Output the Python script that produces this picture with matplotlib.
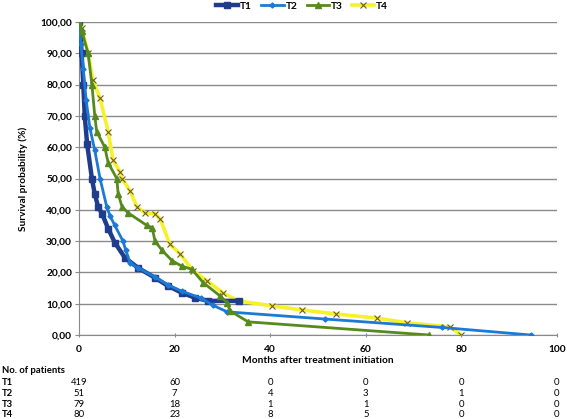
import matplotlib
matplotlib.use('Agg')
import matplotlib.pyplot as plt
import matplotlib.transforms as mtransforms
from matplotlib.ticker import FuncFormatter

plt.rcParams['font.family'] = ['Lato', 'DejaVu Sans']
plt.rcParams['font.size'] = 7.3
plt.rcParams['font.weight'] = 'bold'

# survival curves (months, %)
t1_months = [0, 0.3, 0.55, 0.9, 1.2, 1.7, 2.7, 3.3, 4.0, 4.8, 6.1, 7.5, 9.6, 12.3, 15.9,
             18.6, 21.5, 24.3, 27, 33.5]
t1_surv = [100, 96, 90, 80, 70, 61, 50, 45, 41, 38.8, 34, 29.5, 24.7, 21.5, 18.3,
           15.7, 13.5, 11.9, 10.9, 10.9]

t2_months = [0, 0.4, 0.9, 1.5, 2.3, 3.3, 4.4, 5.8, 6.5, 7.5, 9.2, 9.8, 10.7, 12.3, 15.9,
             18.6, 21.5, 25.5, 28, 31, 51.5, 76, 94.5]
t2_surv = [100, 93, 85, 75, 66, 59, 50, 41, 38, 35, 30, 27, 23, 21.5, 18.5,
           16, 14, 11.8, 9.5, 7.4, 5.1, 2.4, 0]

t3_months = [0, 0.6, 1.9, 2.7, 3.3, 3.7, 5.4, 6.1, 7.9, 8.2, 9, 10.3, 14.2, 15.3, 15.9,
             17.4, 19.5, 21.5, 23.6, 26, 29.5, 31, 31.6, 35.4, 73.2]
t3_surv = [100, 97, 90, 80, 70, 65, 60, 55, 50, 45, 41, 39, 35, 34.3, 30,
           27, 23.7, 22, 21, 16.7, 12.5, 10.3, 7.7, 4.2, 0]

t4_months = [0, 0.6, 1.9, 2.9, 4.4, 6.1, 7.1, 8.6, 9.0, 10.7, 12.1, 13.8, 15.9, 17.0, 19.0,
             21.1, 23.9, 26.8, 30.1, 33.3, 40.4, 46.7, 53.8, 62.3, 68.6, 77.6, 80.0]
t4_surv = [100, 98, 90, 81.5, 75.6, 65, 56, 52, 50, 46, 41, 39, 38.8, 37, 29,
           26, 20.5, 17.3, 13.5, 10.9, 9.3, 8, 6.7, 5.4, 3.9, 2.6, 0]

# number at risk table
risk_times = [0, 20, 40, 60, 80, 100]
risk_rows = ['T1', 'T2', 'T3', 'T4']
risk_t1 = [419, 60, 0, 0, 0, 0]
risk_t2 = [51, 7, 4, 3, 1, 0]
risk_t3 = [79, 18, 1, 1, 0, 0]
risk_t4 = [80, 23, 8, 5, 0, 0]

W, H = 567, 419
fig = plt.figure(figsize=(W / 100, H / 100), dpi=100)
ax = fig.add_axes([79 / W, 1 - 335 / H, (557 - 79) / W, (335 - 22) / H])

ax.plot(t1_months, t1_surv, color='#1f3d8c', lw=3.2, marker='s', ms=4, label='T1', zorder=3)
ax.plot(t2_months, t2_surv, color='#1c7ad4', lw=2, marker='D', ms=2.6, label='T2', zorder=4)
ax.plot(t3_months, t3_surv, color='#568a1c', lw=2, marker='^', ms=5, label='T3', zorder=5)
ax.plot(t4_months, t4_surv, color='#f5f22a', lw=2.6, marker='x', ms=4, mew=0.8,
        mec='#6e5a22', label='T4', zorder=2)

ax.set_xlim(0, 100)
ax.set_ylim(0, 100)
ax.set_yticks(range(0, 101, 10))
ax.set_xticks(risk_times)
ax.yaxis.set_major_formatter(FuncFormatter(lambda v, p: ('%.2f' % v).replace('.', ',')))
ax.grid(axis='y', color='#8a8a8a', lw=1)
ax.set_axisbelow(True)
for s in ['top', 'right']:
    ax.spines[s].set_visible(False)
for s in ['left', 'bottom']:
    ax.spines[s].set_color('#8a8a8a')
ax.tick_params(axis='y', length=3, color='#8a8a8a', pad=2)
ax.tick_params(axis='x', length=3, direction='inout', color='#8a8a8a', pad=6)

ax.set_ylabel('Survival probability (%)', fontweight='bold', labelpad=9)
fig.text(318 / W, 1 - 360 / H, 'Months after treatment initiation', ha='center', va='center',
         fontweight='bold')

leg = fig.legend(loc='center', bbox_to_anchor=(302 / W, 1 - 6 / H), ncol=4, frameon=False,
                 handlelength=2.2, handletextpad=0.2, columnspacing=0.9, fontsize=7.3)

# table
fig.text(2 / W, 1 - 370 / H, 'No. of patients', ha='left', va='center', fontweight='bold',
         fontsize=6.8)
trans = mtransforms.blended_transform_factory(ax.transData, fig.transFigure)
row_y = [382, 393, 404, 414]
for name, vals, y in zip(risk_rows, [risk_t1, risk_t2, risk_t3, risk_t4], row_y):
    fig.text(2 / W, 1 - y / H, name, ha='left', va='center', fontweight='bold', fontsize=6.8)
    for t, v in zip(risk_times, vals):
        ax.text(t, 1 - y / H, str(v), transform=trans, ha='center', va='center',
                fontweight='normal', fontsize=6.8, clip_on=False)

fig.savefig('out.png', dpi=100)
